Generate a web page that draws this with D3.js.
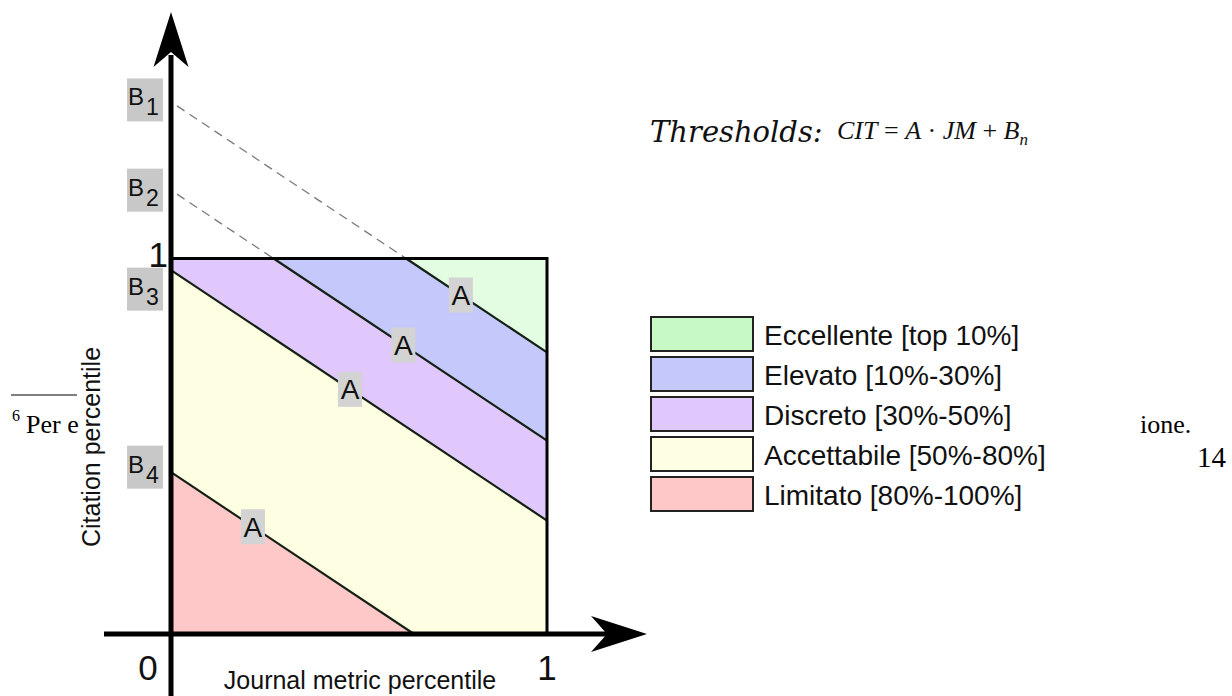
<!DOCTYPE html>
<html><head><meta charset="utf-8">
<script src="https://cdn.jsdelivr.net/npm/d3@7"></script>
<style>html,body{margin:0;padding:0;background:#fff;}svg{display:block;}</style>
</head><body>
<svg id="chart" width="1232" height="696"></svg>
<script>
// ---- data ----
const categories = ["Eccellente [top 10%]", "Elevato [10%-30%]", "Discreto [30%-50%]", "Accettabile [50%-80%]", "Limitato [80%-100%]"];
const legendColors = ["#c6f9c6", "#c4c8fa", "#e0c8fc", "#fefee2", "#ffc8c8"];
const regionColors = ["#e2fde2", "#c4c8fa", "#e0c8fc", "#fefee2", "#ffc8c8"];
const intercepts = [1.417, 1.182, 0.969, 0.431];      // B1..B4
const interceptNames = ["1", "2", "3", "4"];
const slopeA = -0.667;                                 // A
const aLabelAt = [0.771, 0.618, 0.476, 0.218];         // JM where the "A" tags sit
const xTicks = [0, 1];

const svg = d3.select("#chart");
const x = d3.scaleLinear().domain([0, 1]).range([171, 547]);
const y = d3.scaleLinear().domain([0, 1]).range([634, 258.5]);
const line = b => (t => slopeA * t + b);

// clip polygon (data space) by half-plane g(p) >= 0
function clip(poly, g) {
  const out = [];
  for (let i = 0; i < poly.length; i++) {
    const p = poly[i], q = poly[(i + 1) % poly.length];
    const gp = g(p), gq = g(q);
    if (gp >= 0) out.push(p);
    if ((gp >= 0) !== (gq >= 0)) {
      const t = gp / (gp - gq);
      out.push([p[0] + t * (q[0] - p[0]), p[1] + t * (q[1] - p[1])]);
    }
  }
  return out;
}
const square = [[0, 0], [1, 0], [1, 1], [0, 1]];
const bounds = [Infinity, ...intercepts, -Infinity];
const regions = categories.map((c, i) => {
  let poly = square;
  const hi = bounds[i], lo = bounds[i + 1];
  if (isFinite(hi)) poly = clip(poly, p => (slopeA * p[0] + hi) - p[1]);
  if (isFinite(lo)) poly = clip(poly, p => p[1] - (slopeA * p[0] + lo));
  return poly;
});

const gReg = svg.append("g");
gReg.selectAll("path").data(regions).join("path")
  .attr("d", d => d3.line().x(p => x(p[0])).y(p => y(p[1]))(d) + "Z")
  .attr("fill", (d, i) => regionColors[i]).attr("stroke", "none");

// threshold lines
intercepts.forEach((b, i) => {
  const f = line(b);
  let x0 = 0;
  if (b > 1) x0 = (1 - b) / slopeA;
  let x1 = 1;
  if (f(1) < 0) x1 = -b / slopeA;
  if (b > 1) {
    svg.append("line")
      .attr("x1", x(0) + 6).attr("y1", y(f(0 + 6 / 376)))
      .attr("x2", x(x0)).attr("y2", y(f(x0)))
      .attr("stroke", "#7a7a7a").attr("stroke-width", 1.3).attr("stroke-dasharray", "9,6");
  }
  svg.append("line")
    .attr("x1", x(x0)).attr("y1", y(f(x0)))
    .attr("x2", x(x1)).attr("y2", y(f(x1)))
    .attr("stroke", "#142014").attr("stroke-width", 2.2);
});

// box outline (top and right)
svg.append("path")
  .attr("d", `M${x(0)},${y(1)}H${x(1)}V${y(0)}`)
  .attr("fill", "none").attr("stroke", "#000").attr("stroke-width", 3);

// axes
svg.append("line").attr("x1", 104).attr("y1", y(0)).attr("x2", 612).attr("y2", y(0))
  .attr("stroke", "#000").attr("stroke-width", 5);
svg.append("line").attr("x1", x(0)).attr("y1", 696).attr("x2", x(0)).attr("y2", 55)
  .attr("stroke", "#000").attr("stroke-width", 5);
const ax = x(0);
svg.append("path").attr("d", `M${ax},12 L${ax + 17.5},67 L${ax},52 L${ax - 17.5},67 Z`).attr("fill", "#000");
const ay = y(0);
svg.append("path").attr("d", `M647,${ay} L591,${ay - 18} L607,${ay} L591,${ay + 18} Z`).attr("fill", "#000");

const sans = "'Liberation Sans', Arial, sans-serif";

// tick labels
svg.selectAll("text.xt").data(xTicks).join("text").attr("class", "xt")
  .attr("x", d => d === 0 ? x(d) - 23 : x(d)).attr("y", 680)
  .attr("text-anchor", "middle").attr("font-family", sans).attr("font-size", 35).attr("fill", "#111")
  .text(d => d);
svg.append("text").attr("x", x(0) - 3).attr("y", 267).attr("text-anchor", "end")
  .attr("font-family", sans).attr("font-size", 35).attr("fill", "#111").text("1");

// axis titles
svg.append("text").attr("x", 360).attr("y", 689).attr("text-anchor", "middle")
  .attr("font-family", sans).attr("font-size", 25).attr("fill", "#111").text("Journal metric percentile");
svg.append("text").attr("transform", "translate(100,447) rotate(-90)").attr("text-anchor", "middle")
  .attr("font-family", sans).attr("font-size", 25).attr("fill", "#111").text("Citation percentile");

// B labels
const bOffsets = [-2, 0, 19, -5];
intercepts.forEach((b, i) => {
  const cy = y(b) + bOffsets[i];
  const g = svg.append("g");
  g.append("rect").attr("x", 127).attr("y", cy - 21.5).attr("width", 36).attr("height", 43).attr("fill", "#c8c8c8");
  const t = g.append("text").attr("x", 128).attr("y", cy + 5.5).attr("font-family", sans).attr("fill", "#111");
  t.append("tspan").attr("font-size", 24).text("B");
  t.append("tspan").attr("font-size", 23).attr("dy", 10).attr("dx", 2).text(interceptNames[i]);
});

// A labels
aLabelAt.forEach((t, i) => {
  const cx = x(t), cy = y(slopeA * t + intercepts[i]);
  svg.append("rect").attr("x", cx - 12).attr("y", cy - 17.5).attr("width", 24).attr("height", 35).attr("fill", "#d3d3d3");
  svg.append("text").attr("x", cx).attr("y", cy + 10).attr("text-anchor", "middle")
    .attr("font-family", sans).attr("font-size", 28).attr("fill", "#111").text("A");
});

// legend
const lg = svg.append("g");
categories.forEach((c, i) => {
  const top = 317 + i * 40;
  lg.append("rect").attr("x", 651).attr("y", top).attr("width", 102).attr("height", 34)
    .attr("fill", legendColors[i]).attr("stroke", "#222").attr("stroke-width", 2);
  lg.append("text").attr("x", 764).attr("y", top + 28).attr("font-family", sans).attr("font-size", 28)
    .attr("fill", "#111").text(c);
});

// thresholds formula
svg.append("text").attr("x", 650).attr("y", 142).attr("font-family", "'DejaVu Serif', serif")
  .attr("font-style", "italic").attr("font-size", 29).attr("fill", "#111").text("Thresholds:");
const serif = "'Liberation Serif', 'Times New Roman', serif";
const ft = svg.append("text").attr("x", 837).attr("y", 139).attr("font-family", serif).attr("font-size", 26).attr("fill", "#111");
ft.append("tspan").attr("font-style", "italic").text("CIT");
ft.append("tspan").text(" = ");
ft.append("tspan").attr("font-style", "italic").text("A");
ft.append("tspan").text(" · ");
ft.append("tspan").attr("font-style", "italic").text("JM");
ft.append("tspan").text(" + ");
ft.append("tspan").attr("font-style", "italic").text("B");
ft.append("tspan").attr("font-style", "italic").attr("font-size", 17).attr("dy", 6).text("n");

// footnote fragments from underlying page
svg.append("line").attr("x1", 11).attr("x2", 77).attr("y1", 395).attr("y2", 395).attr("stroke", "#000").attr("stroke-width", 1.2);
const fn = svg.append("text").attr("x", 12).attr("y", 433).attr("font-family", serif).attr("fill", "#000");
fn.append("tspan").attr("font-size", 16).attr("dy", -12).text("6");
fn.append("tspan").attr("font-size", 26).attr("dy", 12).attr("dx", 6).text("Per e");
svg.append("text").attr("x", 1140).attr("y", 433).attr("font-family", serif).attr("font-size", 26).attr("fill", "#000").text("ione.");
svg.append("text").attr("x", 1197).attr("y", 467).attr("font-family", serif).attr("font-size", 29).attr("fill", "#000").text("14");
</script>
</body></html>
